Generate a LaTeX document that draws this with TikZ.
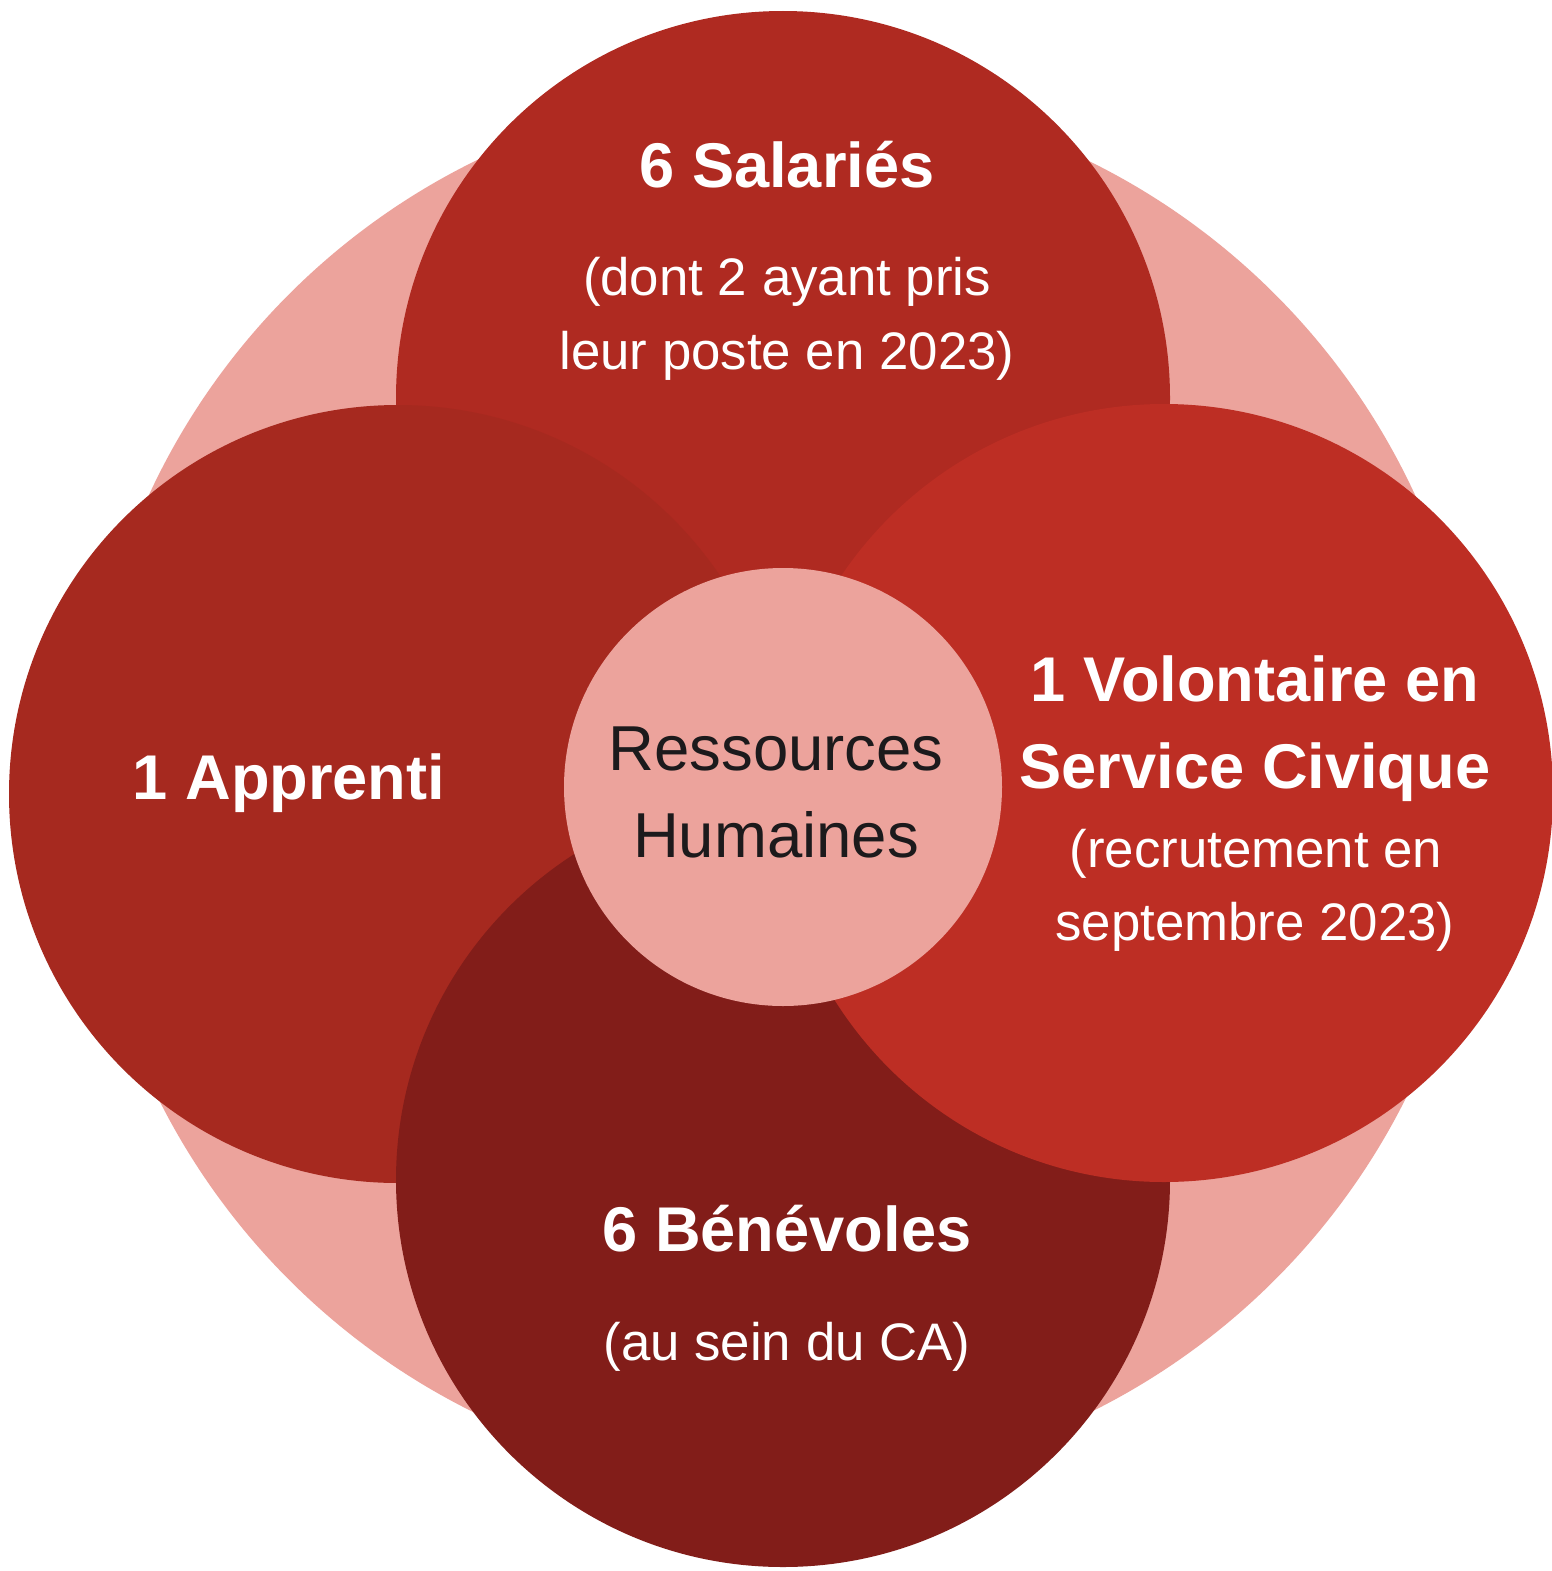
\documentclass[tikz,border=0pt]{standalone}
\usepackage{fontspec}
\setmainfont{Liberation Sans}
\definecolor{pinkbg}{HTML}{ECA39C}
\definecolor{ctop}{HTML}{AF2A21}
\definecolor{cleft}{HTML}{A6291F}
\definecolor{cright}{HTML}{BD2E24}
\definecolor{cbottom}{HTML}{821D19}
\definecolor{ctext}{HTML}{1C1A1C}
\begin{document}
\begin{tikzpicture}[x=1pt,y=-1pt,
  disc/.style={circle,inner sep=0pt,outer sep=0pt,draw=none},
  titletxt/.style={anchor=base,text=white,font=\fontsize{63.2}{70}\selectfont\bfseries,inner sep=0pt},
  subtxt/.style={anchor=base,text=white,font=\fontsize{52.8}{60}\selectfont,inner sep=0pt},
  centertxt/.style={anchor=base,text=ctext,font=\fontsize{63.5}{72}\selectfont,inner sep=0pt}]
\useasboundingbox[fill=white] (0,0) rectangle (1552,1571);
\node[disc,fill=pinkbg,minimum size=1394pt] (big) at (782,787) {};
\node[disc,fill=ctop,minimum size=774pt] (top) at (783,398) {};
\node[disc,fill=cleft,minimum size=778pt] (left) at (398,794) {};
\node[disc,fill=cbottom,minimum size=774pt] (bottom) at (783,1180) {};
\node[disc,fill=cright,minimum size=778pt] (right) at (1164,793) {};
\node[disc,fill=pinkbg,minimum size=438pt] (center) at (783,787) {};
% texts
\node[titletxt] (t1) at (787,187) {6 Salariés};
\node[subtxt] (t1a) at (787,295) {(dont 2 ayant pris};
\node[subtxt] (t1b) at (787,369) {leur poste en 2023)};
\node[titletxt] (t2) at (289,799) {1 Apprenti};
\node[titletxt] (t3) at (1255,701) {1 Volontaire en};
\node[titletxt] (t3b) at (1255,788) {Service Civique};
\node[subtxt] (t3c) at (1256,867) {(recrutement en};
\node[subtxt] (t3d) at (1255,940) {septembre 2023)};
\node[titletxt] (t4) at (787,1251) {6 Bénévoles};
\node[subtxt] (t4a) at (787,1360) {(au sein du CA)};
\node[centertxt] (c1) at (776,770) {Ressources};
\node[centertxt] (c2) at (776,857) {Humaines};
\end{tikzpicture}
\end{document}
